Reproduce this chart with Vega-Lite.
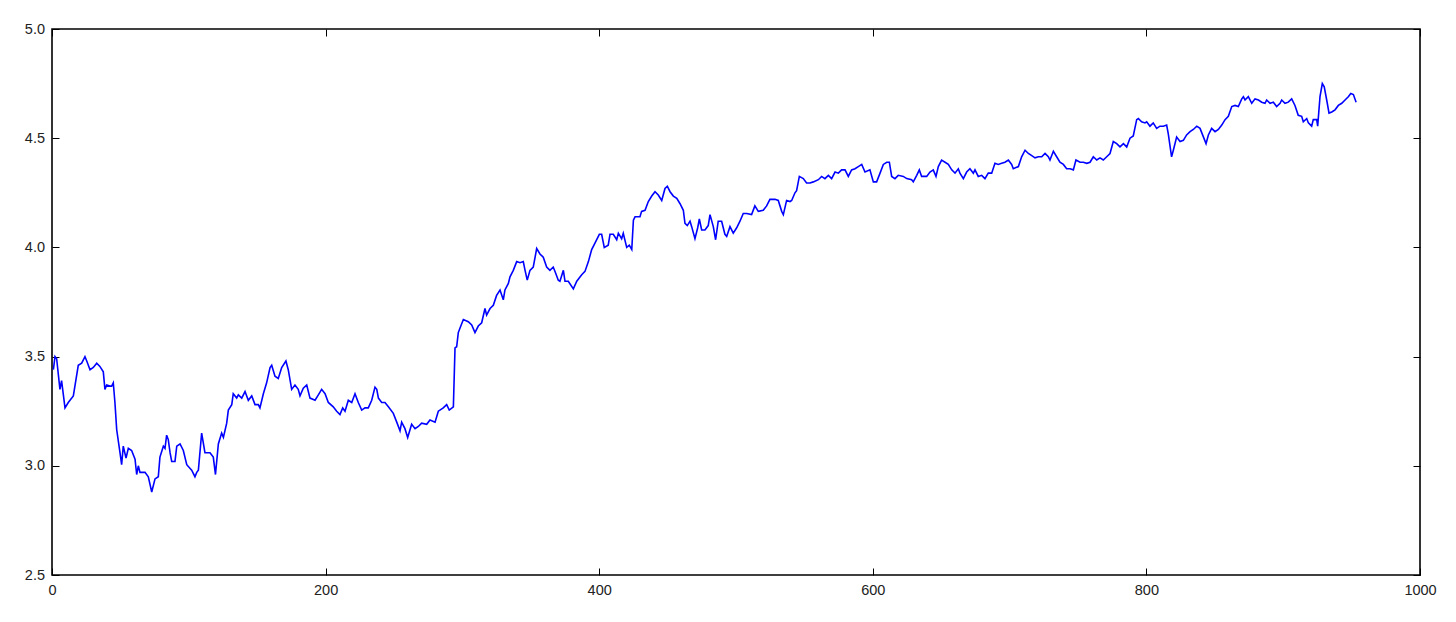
{
  "$schema": "https://vega.github.io/schema/vega-lite/v6.json",
  "width": 1368,
  "height": 546,
  "autosize": "none",
  "padding": {"left": 52, "top": 29, "right": 36, "bottom": 47},
  "background": "white",
  "config": {
    "view": {"stroke": "black", "strokeWidth": 1.6},
    "axis": {"grid": false, "domain": false, "tickColor": "black", "tickSize": -7, "tickWidth": 1, "labelFont": "Liberation Sans", "labelFontSize": 14.5, "labelColor": "#222222", "labelPadding": 14.5, "labelFlush": false, "labelOverlap": false, "title": null}
  },
  "data": {"values": [
{"x":1.0,"y":3.44},{"x":2.2,"y":3.50},{"x":3.4,"y":3.49},{"x":5.8,"y":3.35},{"x":7.0,"y":3.39},{"x":9.5,"y":3.265},{"x":11.9,"y":3.29},{"x":15.6,"y":3.32},{"x":19.2,"y":3.46},{"x":21.7,"y":3.47},{"x":24.1,"y":3.50},{"x":25.4,"y":3.48},{"x":27.8,"y":3.44},{"x":30.2,"y":3.45},{"x":32.7,"y":3.47},{"x":35.0,"y":3.455},{"x":37.5,"y":3.43},{"x":38.7,"y":3.35},{"x":40.0,"y":3.37},{"x":42.4,"y":3.365},{"x":43.6,"y":3.365},{"x":44.8,"y":3.38},{"x":46.0,"y":3.29},{"x":47.3,"y":3.165},{"x":49.7,"y":3.06},{"x":50.9,"y":3.005},{"x":52.1,"y":3.09},{"x":54.1,"y":3.035},{"x":55.8,"y":3.08},{"x":58.2,"y":3.07},{"x":60.7,"y":3.03},{"x":61.9,"y":2.96},{"x":63.1,"y":3.00},{"x":64.3,"y":2.97},{"x":68.0,"y":2.97},{"x":70.4,"y":2.95},{"x":72.9,"y":2.88},{"x":75.3,"y":2.94},{"x":77.7,"y":2.95},{"x":78.9,"y":3.04},{"x":81.4,"y":3.09},{"x":82.6,"y":3.08},{"x":83.8,"y":3.14},{"x":85.0,"y":3.12},{"x":86.3,"y":3.06},{"x":87.5,"y":3.02},{"x":89.9,"y":3.02},{"x":91.2,"y":3.09},{"x":93.6,"y":3.10},{"x":96.0,"y":3.07},{"x":98.5,"y":3.005},{"x":102.1,"y":2.98},{"x":104.5,"y":2.95},{"x":105.8,"y":2.97},{"x":107.0,"y":2.98},{"x":109.4,"y":3.15},{"x":111.8,"y":3.06},{"x":115.5,"y":3.06},{"x":117.9,"y":3.04},{"x":119.5,"y":2.96},{"x":121.6,"y":3.10},{"x":124.0,"y":3.15},{"x":125.3,"y":3.13},{"x":127.7,"y":3.195},{"x":128.9,"y":3.255},{"x":131.4,"y":3.28},{"x":132.5,"y":3.33},{"x":135.0,"y":3.31},{"x":136.2,"y":3.325},{"x":138.7,"y":3.31},{"x":141.1,"y":3.34},{"x":143.5,"y":3.30},{"x":146.0,"y":3.32},{"x":148.4,"y":3.28},{"x":150.8,"y":3.28},{"x":152.0,"y":3.265},{"x":154.5,"y":3.33},{"x":156.9,"y":3.38},{"x":159.4,"y":3.45},{"x":160.6,"y":3.46},{"x":163.0,"y":3.41},{"x":165.4,"y":3.40},{"x":167.9,"y":3.45},{"x":171.0,"y":3.48},{"x":172.7,"y":3.44},{"x":175.2,"y":3.35},{"x":177.6,"y":3.37},{"x":180.0,"y":3.35},{"x":181.3,"y":3.32},{"x":183.7,"y":3.355},{"x":186.2,"y":3.37},{"x":188.6,"y":3.31},{"x":192.3,"y":3.30},{"x":194.7,"y":3.325},{"x":197.1,"y":3.35},{"x":199.6,"y":3.33},{"x":202.0,"y":3.29},{"x":205.6,"y":3.27},{"x":208.1,"y":3.25},{"x":210.5,"y":3.235},{"x":212.5,"y":3.265},{"x":214.2,"y":3.25},{"x":216.6,"y":3.30},{"x":219.1,"y":3.29},{"x":221.5,"y":3.33},{"x":223.9,"y":3.29},{"x":226.4,"y":3.255},{"x":228.8,"y":3.265},{"x":231.2,"y":3.265},{"x":233.7,"y":3.30},{"x":236.1,"y":3.36},{"x":237.4,"y":3.35},{"x":238.6,"y":3.31},{"x":241.0,"y":3.29},{"x":243.4,"y":3.29},{"x":245.9,"y":3.27},{"x":249.5,"y":3.24},{"x":252.0,"y":3.20},{"x":254.4,"y":3.16},{"x":255.6,"y":3.20},{"x":258.0,"y":3.17},{"x":260.0,"y":3.13},{"x":262.9,"y":3.19},{"x":265.4,"y":3.17},{"x":267.8,"y":3.18},{"x":270.2,"y":3.195},{"x":273.9,"y":3.19},{"x":276.3,"y":3.21},{"x":280.0,"y":3.20},{"x":282.4,"y":3.25},{"x":286.0,"y":3.265},{"x":288.5,"y":3.28},{"x":290.4,"y":3.255},{"x":293.4,"y":3.27},{"x":294.6,"y":3.54},{"x":295.8,"y":3.545},{"x":297.0,"y":3.61},{"x":298.2,"y":3.63},{"x":300.7,"y":3.67},{"x":304.3,"y":3.66},{"x":306.8,"y":3.645},{"x":309.2,"y":3.61},{"x":311.6,"y":3.64},{"x":314.1,"y":3.655},{"x":316.5,"y":3.72},{"x":317.7,"y":3.69},{"x":320.2,"y":3.72},{"x":322.6,"y":3.735},{"x":325.0,"y":3.78},{"x":327.5,"y":3.805},{"x":329.9,"y":3.76},{"x":331.1,"y":3.805},{"x":333.6,"y":3.835},{"x":334.8,"y":3.865},{"x":337.2,"y":3.895},{"x":339.7,"y":3.935},{"x":342.1,"y":3.93},{"x":344.5,"y":3.935},{"x":345.8,"y":3.895},{"x":347.4,"y":3.85},{"x":349.4,"y":3.895},{"x":351.8,"y":3.91},{"x":354.3,"y":3.995},{"x":356.7,"y":3.97},{"x":359.1,"y":3.955},{"x":361.6,"y":3.91},{"x":364.0,"y":3.895},{"x":366.4,"y":3.91},{"x":367.7,"y":3.89},{"x":370.1,"y":3.85},{"x":371.3,"y":3.845},{"x":373.8,"y":3.895},{"x":375.0,"y":3.845},{"x":377.4,"y":3.845},{"x":381.1,"y":3.81},{"x":383.6,"y":3.845},{"x":387.2,"y":3.875},{"x":389.6,"y":3.89},{"x":392.1,"y":3.935},{"x":394.5,"y":3.99},{"x":396.9,"y":4.02},{"x":400.1,"y":4.06},{"x":401.8,"y":4.06},{"x":403.7,"y":4.00},{"x":406.6,"y":4.01},{"x":407.9,"y":4.06},{"x":410.3,"y":4.06},{"x":412.8,"y":4.035},{"x":414.0,"y":4.065},{"x":416.4,"y":4.04},{"x":417.6,"y":4.065},{"x":420.1,"y":4.00},{"x":422.0,"y":4.01},{"x":423.8,"y":3.99},{"x":425.0,"y":4.125},{"x":426.2,"y":4.14},{"x":429.8,"y":4.14},{"x":431.0,"y":4.165},{"x":433.5,"y":4.17},{"x":435.9,"y":4.21},{"x":438.4,"y":4.235},{"x":440.8,"y":4.255},{"x":443.2,"y":4.24},{"x":445.7,"y":4.215},{"x":448.1,"y":4.27},{"x":449.8,"y":4.28},{"x":451.8,"y":4.255},{"x":454.2,"y":4.235},{"x":456.7,"y":4.225},{"x":459.1,"y":4.20},{"x":461.5,"y":4.17},{"x":462.7,"y":4.11},{"x":464.4,"y":4.10},{"x":466.4,"y":4.12},{"x":467.6,"y":4.095},{"x":470.0,"y":4.04},{"x":472.0,"y":4.09},{"x":473.2,"y":4.13},{"x":474.9,"y":4.08},{"x":477.3,"y":4.08},{"x":479.7,"y":4.10},{"x":481.0,"y":4.15},{"x":483.4,"y":4.095},{"x":485.1,"y":4.035},{"x":487.0,"y":4.12},{"x":489.5,"y":4.12},{"x":491.9,"y":4.06},{"x":493.2,"y":4.05},{"x":495.6,"y":4.095},{"x":498.0,"y":4.065},{"x":500.5,"y":4.09},{"x":502.9,"y":4.12},{"x":505.3,"y":4.155},{"x":507.8,"y":4.155},{"x":511.4,"y":4.15},{"x":513.8,"y":4.19},{"x":516.3,"y":4.165},{"x":519.9,"y":4.17},{"x":522.4,"y":4.19},{"x":524.8,"y":4.22},{"x":528.5,"y":4.22},{"x":530.9,"y":4.215},{"x":533.4,"y":4.165},{"x":534.6,"y":4.15},{"x":537.0,"y":4.215},{"x":539.5,"y":4.21},{"x":540.7,"y":4.215},{"x":543.1,"y":4.25},{"x":544.3,"y":4.26},{"x":546.3,"y":4.325},{"x":549.2,"y":4.315},{"x":551.6,"y":4.295},{"x":554.1,"y":4.295},{"x":556.5,"y":4.30},{"x":560.2,"y":4.31},{"x":562.6,"y":4.325},{"x":565.0,"y":4.315},{"x":567.5,"y":4.33},{"x":569.9,"y":4.315},{"x":572.4,"y":4.345},{"x":574.8,"y":4.34},{"x":577.2,"y":4.355},{"x":579.7,"y":4.355},{"x":582.1,"y":4.325},{"x":584.5,"y":4.355},{"x":587.0,"y":4.36},{"x":589.4,"y":4.37},{"x":591.9,"y":4.38},{"x":594.3,"y":4.345},{"x":597.9,"y":4.355},{"x":600.4,"y":4.30},{"x":602.8,"y":4.30},{"x":605.3,"y":4.34},{"x":607.7,"y":4.38},{"x":610.2,"y":4.39},{"x":612.1,"y":4.39},{"x":613.8,"y":4.325},{"x":616.2,"y":4.315},{"x":618.6,"y":4.33},{"x":622.3,"y":4.325},{"x":624.8,"y":4.315},{"x":628.4,"y":4.31},{"x":629.6,"y":4.30},{"x":632.1,"y":4.33},{"x":634.0,"y":4.355},{"x":635.7,"y":4.325},{"x":639.4,"y":4.325},{"x":641.8,"y":4.345},{"x":644.2,"y":4.355},{"x":646.2,"y":4.325},{"x":647.9,"y":4.37},{"x":650.3,"y":4.40},{"x":652.8,"y":4.39},{"x":655.2,"y":4.38},{"x":657.7,"y":4.355},{"x":660.1,"y":4.34},{"x":662.5,"y":4.36},{"x":663.7,"y":4.34},{"x":666.2,"y":4.315},{"x":668.6,"y":4.345},{"x":671.0,"y":4.36},{"x":673.5,"y":4.34},{"x":674.7,"y":4.355},{"x":677.1,"y":4.325},{"x":679.6,"y":4.33},{"x":682.0,"y":4.315},{"x":684.4,"y":4.34},{"x":686.9,"y":4.34},{"x":689.3,"y":4.385},{"x":691.7,"y":4.38},{"x":694.2,"y":4.385},{"x":696.6,"y":4.39},{"x":699.1,"y":4.40},{"x":701.5,"y":4.38},{"x":702.7,"y":4.36},{"x":706.4,"y":4.37},{"x":708.8,"y":4.415},{"x":711.3,"y":4.445},{"x":713.7,"y":4.43},{"x":716.2,"y":4.42},{"x":718.6,"y":4.41},{"x":721.0,"y":4.415},{"x":723.5,"y":4.415},{"x":725.9,"y":4.43},{"x":728.3,"y":4.415},{"x":729.5,"y":4.40},{"x":732.0,"y":4.44},{"x":734.4,"y":4.415},{"x":736.8,"y":4.39},{"x":739.3,"y":4.38},{"x":741.7,"y":4.36},{"x":744.2,"y":4.36},{"x":746.6,"y":4.355},{"x":748.5,"y":4.40},{"x":751.5,"y":4.39},{"x":753.9,"y":4.39},{"x":756.4,"y":4.385},{"x":758.8,"y":4.39},{"x":761.2,"y":4.415},{"x":763.7,"y":4.40},{"x":766.1,"y":4.41},{"x":768.5,"y":4.40},{"x":771.0,"y":4.415},{"x":773.4,"y":4.43},{"x":775.8,"y":4.485},{"x":778.3,"y":4.475},{"x":780.7,"y":4.46},{"x":783.2,"y":4.475},{"x":785.6,"y":4.46},{"x":788.0,"y":4.50},{"x":790.4,"y":4.51},{"x":792.9,"y":4.585},{"x":794.1,"y":4.59},{"x":796.5,"y":4.575},{"x":799.0,"y":4.57},{"x":800.2,"y":4.575},{"x":802.6,"y":4.555},{"x":805.0,"y":4.57},{"x":807.5,"y":4.545},{"x":809.9,"y":4.555},{"x":812.4,"y":4.555},{"x":814.8,"y":4.56},{"x":816.0,"y":4.52},{"x":818.4,"y":4.415},{"x":819.7,"y":4.445},{"x":822.1,"y":4.505},{"x":824.6,"y":4.485},{"x":827.0,"y":4.49},{"x":829.4,"y":4.515},{"x":831.9,"y":4.53},{"x":834.3,"y":4.54},{"x":836.8,"y":4.555},{"x":839.2,"y":4.545},{"x":843.6,"y":4.475},{"x":845.3,"y":4.515},{"x":847.7,"y":4.545},{"x":850.2,"y":4.53},{"x":852.6,"y":4.54},{"x":855.1,"y":4.56},{"x":857.5,"y":4.585},{"x":859.9,"y":4.60},{"x":862.4,"y":4.645},{"x":864.8,"y":4.65},{"x":867.2,"y":4.645},{"x":869.7,"y":4.68},{"x":870.9,"y":4.69},{"x":872.1,"y":4.675},{"x":874.5,"y":4.69},{"x":877.0,"y":4.66},{"x":879.4,"y":4.68},{"x":881.9,"y":4.675},{"x":884.3,"y":4.665},{"x":886.7,"y":4.66},{"x":887.9,"y":4.675},{"x":890.4,"y":4.66},{"x":892.8,"y":4.665},{"x":895.2,"y":4.645},{"x":897.7,"y":4.66},{"x":898.9,"y":4.675},{"x":901.3,"y":4.66},{"x":903.7,"y":4.665},{"x":906.2,"y":4.68},{"x":908.6,"y":4.65},{"x":911.0,"y":4.605},{"x":913.5,"y":4.60},{"x":914.7,"y":4.575},{"x":917.2,"y":4.59},{"x":918.4,"y":4.57},{"x":920.8,"y":4.555},{"x":922.0,"y":4.585},{"x":924.5,"y":4.585},{"x":925.2,"y":4.555},{"x":926.9,"y":4.69},{"x":928.6,"y":4.75},{"x":930.0,"y":4.735},{"x":931.8,"y":4.675},{"x":933.5,"y":4.615},{"x":935.5,"y":4.62},{"x":937.9,"y":4.63},{"x":940.3,"y":4.65},{"x":942.8,"y":4.66},{"x":945.2,"y":4.675},{"x":947.6,"y":4.69},{"x":949.4,"y":4.705},{"x":951.3,"y":4.70},{"x":953.3,"y":4.665}
  ]},
  "encoding": {
    "x": {"field": "x", "type": "quantitative", "scale": {"domain": [0, 1000], "nice": false, "zero": false}},
    "y": {"field": "y", "type": "quantitative", "scale": {"domain": [2.5, 5.0], "nice": false, "zero": false}}
  },
  "layer": [
    {
      "mark": {"type": "line", "color": "#0000ff", "strokeWidth": 1.6, "interpolate": "linear"},
      "encoding": {
        "x": {"field": "x", "type": "quantitative", "axis": {"orient": "bottom", "values": [0, 200, 400, 600, 800, 1000], "format": "d", "labelPadding": 15}},
        "y": {"field": "y", "type": "quantitative", "axis": {"orient": "left", "values": [2.5, 3.0, 3.5, 4.0, 4.5, 5.0], "format": ".1f"}}
      }
    },
    {
      "mark": {"type": "line", "color": "#0000ff", "strokeOpacity": 0},
      "encoding": {
        "x": {"field": "x", "type": "quantitative", "axis": {"orient": "top", "values": [0, 200, 400, 600, 800, 1000], "labels": false}},
        "y": {"field": "y", "type": "quantitative", "axis": {"orient": "right", "values": [2.5, 3.0, 3.5, 4.0, 4.5, 5.0], "labels": false}}
      }
    }
  ],
  "resolve": {"axis": {"x": "independent", "y": "independent"}}
}
